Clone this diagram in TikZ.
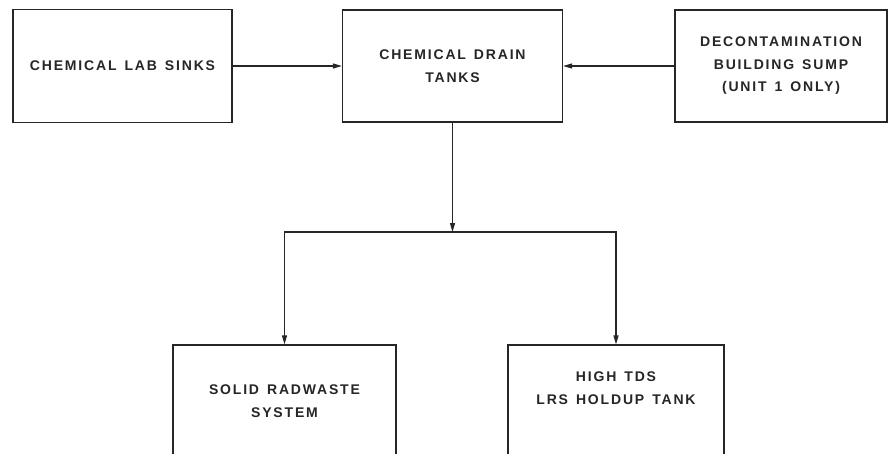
\documentclass[tikz,border=0pt]{standalone}
\usepackage{fontspec}
\newfontfamily\lbl{Liberation Sans}[LetterSpace=13,WordSpace=1.4]
\usetikzlibrary{arrows.meta}
\tikzset{
  box/.style={draw=black!85, line width=1.2pt, rectangle, inner sep=0pt},
  txt/.style={font=\lbl\bfseries\fontsize{14}{22.5}\selectfont, align=center, text=black!85},
  arr/.style={draw=black!85, line width=1.2pt, -{Triangle[length=9pt,width=5pt]}},
  ln/.style={draw=black!85, line width=1.2pt}
}
\begin{document}
\begin{tikzpicture}[x=1pt,y=-1pt]
\useasboundingbox (0,0) rectangle (890,453);
\clip (0,0) rectangle (890,453);
\fill[white] (0,0) rectangle (890,453);
\node[box, minimum width=219pt, minimum height=113pt, txt] (b1) at (122.5,66) {CHEMICAL LAB SINKS};
\node[box, minimum width=220pt, minimum height=112pt, txt] (b2) at (452.5,66) {CHEMICAL DRAIN\\TANKS};
\node[box, minimum width=212pt, minimum height=112pt, txt] (b3) at (781,66) {DECONTAMINATION\\BUILDING SUMP\\(UNIT 1 ONLY)};
\node[box, minimum width=223pt, minimum height=120pt] (b4) at (284.5,405) {};
\node[box, minimum width=216pt, minimum height=120pt] (b5) at (616,405) {};
\node[txt] (t4) at (284.5,401) {SOLID RADWASTE\\SYSTEM};
\node[txt] (t5) at (616,388) {HIGH TDS\\LRS HOLDUP TANK};
\coordinate (j) at (452.5,232);
\draw[arr] (b1.east) -- (b2.west);
\draw[arr] (b3.west) -- (b2.east);
\draw[arr] (b2.south) -- (j);
\draw[arr] (j) -| (b4.north);
\draw[arr] (j) -| (b5.north);
\end{tikzpicture}
\end{document}
